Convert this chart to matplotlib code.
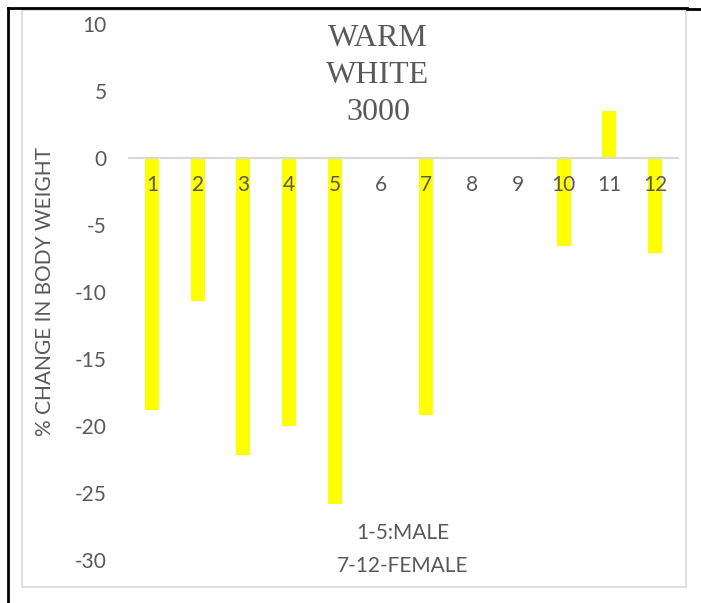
import matplotlib
matplotlib.use("Agg")
import matplotlib.pyplot as plt
from matplotlib.lines import Line2D
from matplotlib.patches import Rectangle

# Data
subjects = ["1", "2", "3", "4", "5", "6", "7", "8", "9", "10", "11", "12"]
pct_change = [-18.8, -10.7, -22.2, -20.0, -25.8, 0, -19.2, 0, 0, -6.6, 3.5, -7.1]
y_ticks = [10, 5, 0, -5, -10, -15, -20, -25, -30]
title_lines = ["WARM", "WHITE", "3000"]
note_lines = ["1-5:MALE", "7-12-FEMALE"]

W, H = 701, 603
fig = plt.figure(figsize=(W / 100, H / 100), dpi=100)
fig.patch.set_facecolor("white")

sans = ["Lato", "DejaVu Sans"]
gray = "#595959"

# chart-area border
fig.add_artist(Rectangle((22 / W, 1 - 587 / H), (686 - 22) / W, (587 - 10) / H,
                         transform=fig.transFigure, fill=False,
                         edgecolor="#d9d9d9", linewidth=1.2))
# black frame lines (left and top)
fig.add_artist(Line2D([8 / W, 8 / W], [0, 1 - 8 / H], transform=fig.transFigure,
                      color="black", linewidth=2))
fig.add_artist(Line2D([8 / W, 687 / W], [1 - 8 / H, 1 - 8 / H], transform=fig.transFigure,
                      color="black", linewidth=2))
fig.add_artist(Line2D([687 / W, 1], [1 - 9 / H, 1 - 9 / H], transform=fig.transFigure,
                      color="black", linewidth=2))

left, right = 129 / W, 678 / W
bottom, top = 1 - 560 / H, 1 - 24 / H
ax = fig.add_axes([left, bottom, right - left, top - bottom])

for s in ["top", "right", "left"]:
    ax.spines[s].set_visible(False)
ax.spines["bottom"].set_position(("data", 0))
ax.spines["bottom"].set_color("#d9d9d9")
ax.spines["bottom"].set_linewidth(1.5)

x = list(range(len(subjects)))
ax.bar(x, pct_change, width=0.31, color="#ffff00", zorder=1)

ax.set_xlim(-0.5, len(subjects) - 0.5)
ax.set_ylim(-30, 10)
ax.set_yticks(y_ticks)
ax.set_yticklabels([str(v) for v in y_ticks], family=sans, fontsize=15, color=gray)
ax.set_xticks(x)
ax.set_xticklabels(subjects, family=sans, fontsize=15, color=gray)
ax.tick_params(axis="x", length=0, pad=12)
ax.tick_params(axis="y", length=0, pad=16)

ax.set_ylabel("% CHANGE IN BODY WEIGHT", family=sans, fontsize=15, color=gray, va="center")
ax.yaxis.set_label_coords((45 - 129) / (678 - 129), 0.5)

# title
for i, line in enumerate(title_lines):
    fig.text(378 / W, 1 - (38 + 37.5 * i) / H, line, family=["Liberation Serif", "DejaVu Serif"],
             fontsize=23, color=gray, ha="center", va="center")

# note
for i, line in enumerate(note_lines):
    fig.text(403 / W, 1 - (533 + 33 * i) / H, line, family=sans,
             fontsize=15, color=gray, ha="center", va="center")

fig.savefig("out.png", dpi=100, facecolor="white")
